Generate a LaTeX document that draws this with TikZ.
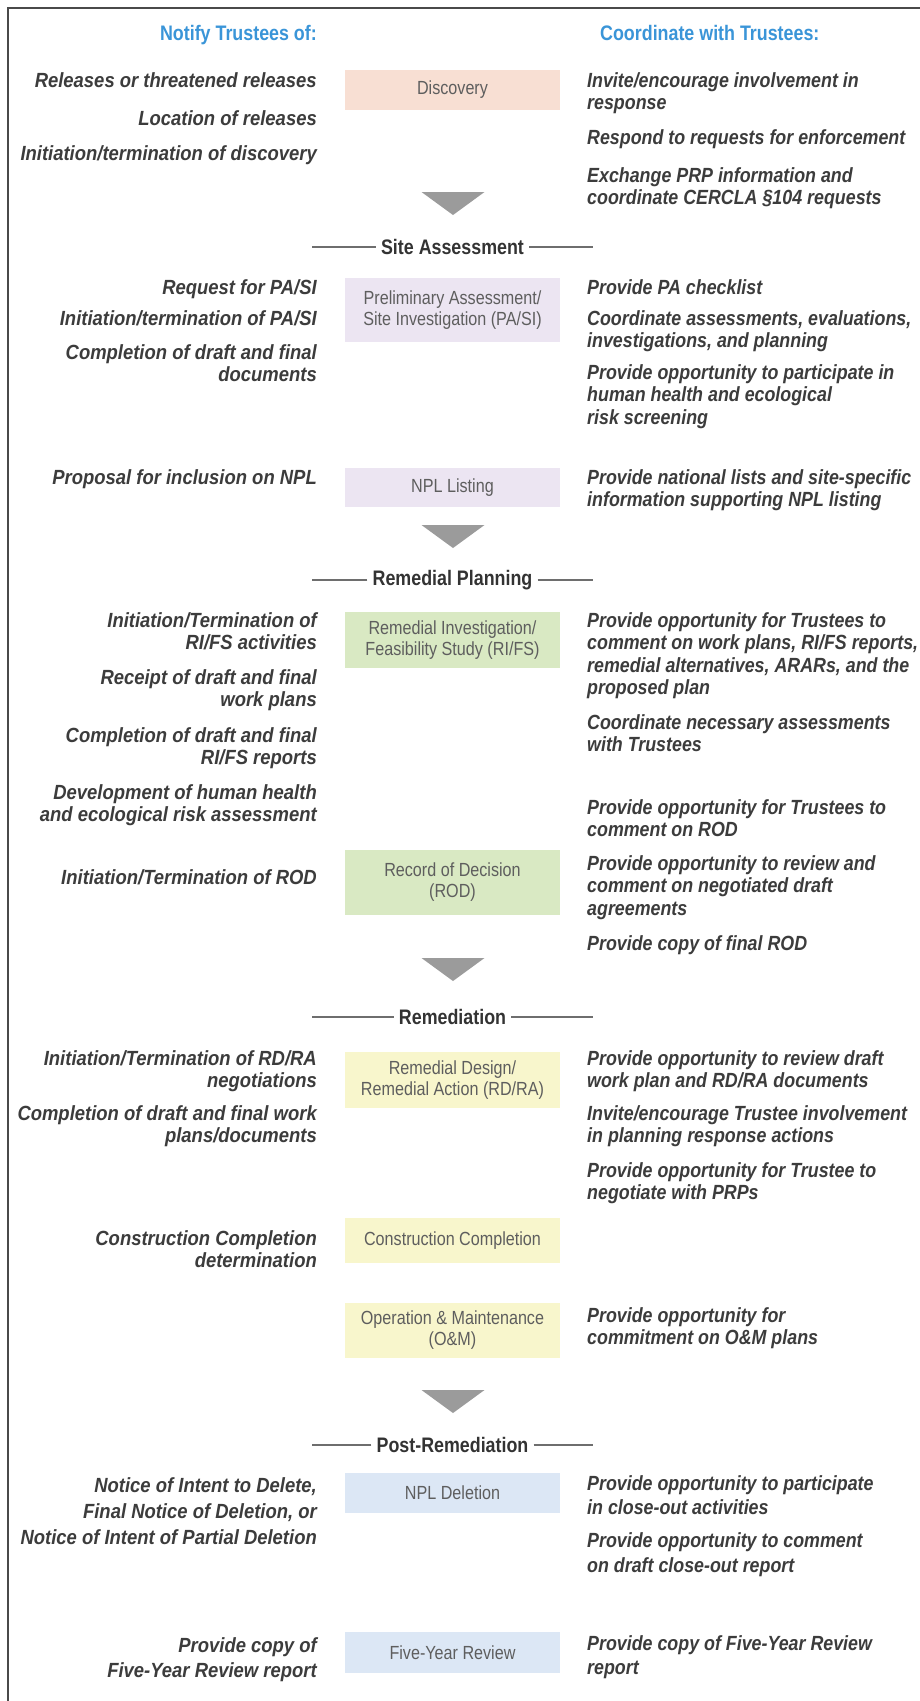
\documentclass[tikz,border=0pt]{standalone}
\usepackage{fontspec}
\setmainfont{Liberation Sans}
\newfontfamily\leftfnt[FakeStretch=0.9]{Liberation Sans}
\newfontfamily\rightfnt[FakeStretch=0.87]{Liberation Sans}
\newfontfamily\headfnt[FakeStretch=0.85]{Liberation Sans}
\newfontfamily\boxfnt[FakeStretch=0.85]{Liberation Sans}
\definecolor{peach}{HTML}{F8DFD3}
\definecolor{lav}{HTML}{ECE5F2}
\definecolor{lgreen}{HTML}{D9E9C3}
\definecolor{lyellow}{HTML}{F8F6CC}
\definecolor{lblue}{HTML}{DCE7F5}
\definecolor{arrowgray}{HTML}{9B9B9B}
\definecolor{headblue}{HTML}{3A95D8}
\definecolor{bodygray}{HTML}{3C3C3C}
\definecolor{boxgray}{HTML}{5E5E5E}
\definecolor{secgray}{HTML}{333333}
\definecolor{framegray}{HTML}{4A4A4A}
\definecolor{linegray}{HTML}{6E6E6E}
\begin{document}
\begin{tikzpicture}[x=1pt,y=-1pt,
  lefttxt/.style={anchor=north east, align=right, inner sep=0pt, text=bodygray,
    font=\leftfnt\bfseries\itshape\fontsize{20.5}{22.5}\selectfont},
  righttxt/.style={anchor=north west, align=left, inner sep=0pt, text=bodygray,
    font=\rightfnt\bfseries\itshape\fontsize{20.5}{22.5}\selectfont},
  stage/.style={minimum width=215pt, inner sep=0pt, align=center, text=boxgray,
    font=\boxfnt\fontsize{19}{21}\selectfont},
  colhead/.style={inner sep=0pt, text=headblue, font=\headfnt\bfseries\fontsize{21}{24}\selectfont},
  sechead/.style={inner sep=0pt, text=secgray, font=\headfnt\bfseries\fontsize{21}{24}\selectfont},
  secline/.style={draw=linegray, line width=1.8pt},
  downarrow/.style={fill=arrowgray},
  frameline/.style={draw=framegray, line width=1.5pt}
]
\useasboundingbox (0,0) rectangle (920,1701);
\fill[white] (0,0) rectangle (920,1701);
% frame
\draw[frameline] (8,1701) -- (8,8) -- (920,8);

% column headings
\node[colhead, anchor=base east] (hl) at (317,40) {Notify Trustees of:};
\node[colhead, anchor=base west] (hr) at (600,40) {Coordinate with Trustees:};

% stage boxes
\node[stage, fill=peach, minimum height=40pt] (disc) at (452.5,90) {Discovery};
\node[stage, fill=lav, minimum height=64pt] (pasi) at (452.5,310) {Preliminary Assessment/\\Site Investigation (PA/SI)};
\node[stage, fill=lav, minimum height=39pt] (nplL) at (452.5,487.5) {NPL Listing};
\node[stage, fill=lgreen, minimum height=56pt] (rifs) at (452.5,640) {Remedial Investigation/\\Feasibility Study (RI/FS)};
\node[stage, fill=lgreen, minimum height=65pt] (rod) at (452.5,882.5) {Record of Decision\\(ROD)};
\node[stage, fill=lyellow, minimum height=56pt] (rdra) at (452.5,1080) {Remedial Design/\\Remedial Action (RD/RA)};
\node[stage, fill=lyellow, minimum height=45pt] (cc) at (452.5,1240.5) {Construction Completion};
\node[stage, fill=lyellow, minimum height=55pt] (om) at (452.5,1330.5) {Operation \& Maintenance\\(O\&M)};
\node[stage, fill=lblue, minimum height=40pt] (npld) at (452.5,1493) {NPL Deletion};
\node[stage, fill=lblue, minimum height=41pt] (fyr) at (452.5,1652.5) {Five-Year Review};

% down arrows
\foreach \t in {192,525,958,1390}{
  \fill[downarrow] (421.5,\t) -- (484.5,\t) -- (453,\t+23) -- cycle;
}

% section headings
\node[sechead] (s1) at (452.5,247) {Site Assessment};
\node[sechead] (s2) at (452.5,580) {Remedial Planning};
\node[sechead] (s3) at (452.5,1017) {Remediation};
\node[sechead] (s4) at (452.5,1445) {Post-Remediation};
\foreach \s in {s1,s2,s3,s4}{
  \draw[secline] ([xshift=-5pt]\s.west) -- ([xshift=-5pt]\s.west -| 317,0);
  \draw[secline] ([xshift=5pt]\s.east) -- ([xshift=5pt]\s.east -| 588,0);
}

% left column (notify)
\node[lefttxt] (l1) at (317,72) {Releases or threatened releases};
\node[lefttxt] (l2) at (317,110) {Location of releases};
\node[lefttxt] (l3) at (317,145) {Initiation/termination of discovery};
\node[lefttxt] (l4) at (317,279) {Request for PA/SI};
\node[lefttxt] (l5) at (317,310) {Initiation/termination of PA/SI};
\node[lefttxt] (l6) at (317,344) {Completion of draft and final\\documents};
\node[lefttxt] (l7) at (317,469) {Proposal for inclusion on NPL};
\node[lefttxt] (l8) at (317,612) {Initiation/Termination of\\RI/FS activities};
\node[lefttxt] (l9) at (317,669) {Receipt of draft and final\\work plans};
\node[lefttxt] (l10) at (317,727) {Completion of draft and final\\RI/FS reports};
\node[lefttxt] (l11) at (317,784) {Development of human health\\and ecological risk assessment};
\node[lefttxt] (l12) at (317,869) {Initiation/Termination of ROD};
\node[lefttxt] (l13) at (317,1050) {Initiation/Termination of RD/RA\\negotiations};
\node[lefttxt] (l14) at (317,1105) {Completion of draft and final work\\plans/documents};
\node[lefttxt] (l15) at (317,1230) {Construction Completion\\determination};
\node[lefttxt, font=\leftfnt\bfseries\itshape\fontsize{20.5}{26}\selectfont] (l16) at (317,1477) {Notice of Intent to Delete,\\Final Notice of Deletion, or\\Notice of Intent of Partial Deletion};
\node[lefttxt, font=\leftfnt\bfseries\itshape\fontsize{20.5}{25}\selectfont] (l17) at (317,1637) {Provide copy of\\Five-Year Review report};

% right column (coordinate)
\node[righttxt] (r1) at (587,72) {Invite/encourage involvement in\\response};
\node[righttxt] (r2) at (587,129) {Respond to requests for enforcement};
\node[righttxt] (r3) at (587,167) {Exchange PRP information and\\coordinate CERCLA §104 requests};
\node[righttxt] (r4) at (587,279) {Provide PA checklist};
\node[righttxt] (r5) at (587,310) {Coordinate assessments, evaluations,\\investigations, and planning};
\node[righttxt] (r6) at (587,364) {Provide opportunity to participate in\\human health and ecological\\risk screening};
\node[righttxt] (r7) at (587,469) {Provide national lists and site-specific\\information supporting NPL listing};
\node[righttxt] (r8) at (587,612) {Provide opportunity for Trustees to\\comment on work plans, RI/FS reports,\\remedial alternatives, ARARs, and the\\proposed plan};
\node[righttxt] (r9) at (587,714) {Coordinate necessary assessments\\with Trustees};
\node[righttxt] (r10) at (587,799) {Provide opportunity for Trustees to\\comment on ROD};
\node[righttxt] (r11) at (587,855) {Provide opportunity to review and\\comment on negotiated draft\\agreements};
\node[righttxt] (r12) at (587,935) {Provide copy of final ROD};
\node[righttxt] (r13) at (587,1050) {Provide opportunity to review draft\\work plan and RD/RA documents};
\node[righttxt] (r14) at (587,1105) {Invite/encourage Trustee involvement\\in planning response actions};
\node[righttxt] (r15) at (587,1162) {Provide opportunity for Trustee to\\negotiate with PRPs};
\node[righttxt] (r16) at (587,1307) {Provide opportunity for\\commitment on O\&M plans};
\node[righttxt, font=\rightfnt\bfseries\itshape\fontsize{20.5}{24}\selectfont] (r17) at (587,1475) {Provide opportunity to participate\\in close-out activities};
\node[righttxt, font=\rightfnt\bfseries\itshape\fontsize{20.5}{25}\selectfont] (r18) at (587,1532) {Provide opportunity to comment\\on draft close-out report};
\node[righttxt, font=\rightfnt\bfseries\itshape\fontsize{20.5}{24}\selectfont] (r19) at (587,1635) {Provide copy of Five-Year Review\\report};
\end{tikzpicture}
\end{document}
